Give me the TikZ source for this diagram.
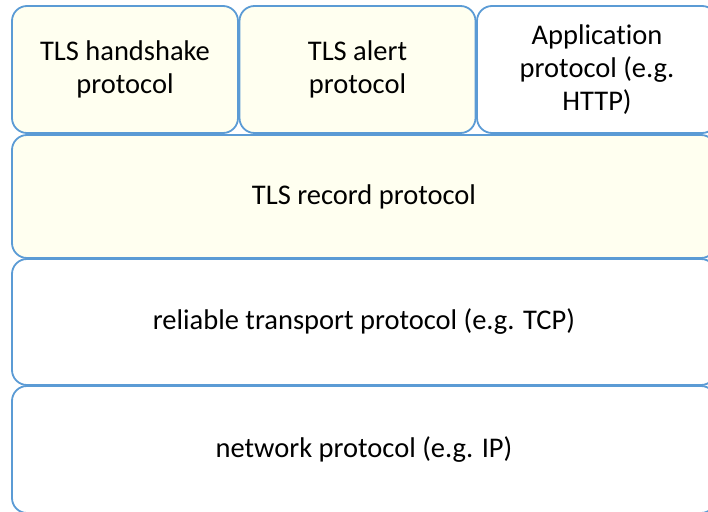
\documentclass[tikz,border=0pt]{standalone}
\usepackage{fontspec}
\setmainfont{Carlito}[Ligatures=NoCommon]
\definecolor{edgeblue}{RGB}{91,155,213}
\definecolor{tlsfill}{RGB}{255,255,240}
\begin{document}
\begin{tikzpicture}[x=1pt, y=-1pt,
    layer/.style={draw=edgeblue, line width=1.8pt, rounded corners=15pt,
        inner sep=0pt, align=center, font=\fontsize{28.5}{33}\selectfont},
    tls/.style={layer, fill=tlsfill}]
    \useasboundingbox (0,0) rectangle (708,511);
    \clip (0,0) rectangle (708,511);

    % upper row
    \node[tls, minimum width=226pt, minimum height=127pt] (handshake) at (125,69.5)
        {TLS handshake\\protocol};
    \node[tls, minimum width=236pt, minimum height=127pt] (alert) at (357.5,69.5)
        {TLS alert\\protocol};
    \node[layer, fill=white, minimum width=240pt, minimum height=127pt] (app) at (597,69.5)
        {Application\\protocol (e.g.\\HTTP)};

    % lower layers
    \node[tls, minimum width=704pt, minimum height=123pt] (record) at (364,196.5)
        {TLS record protocol};
    \node[layer, fill=white, minimum width=704pt, minimum height=126pt] (transport) at (364,322)
        {reliable transport protocol (e.g. TCP)};
    \node[layer, fill=white, minimum width=704pt, minimum height=127pt] (network) at (364,449.5)
        {network protocol (e.g. IP)};
\end{tikzpicture}
\end{document}
